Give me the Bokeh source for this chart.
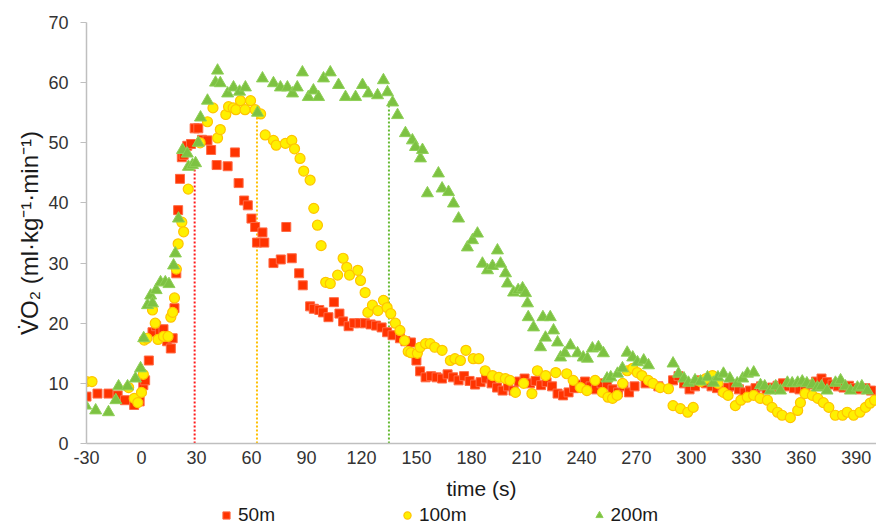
from bokeh.plotting import figure
from bokeh.layouts import column
from bokeh.models import Range1d, FixedTicker, Legend, LegendItem
from bokeh.embed import file_html
from bokeh.resources import INLINE

# ---------------- data ----------------
t50 = [-30, -24, -18, -13, -9, -4, -1, 1, 2, 4, 6, 8, 10, 12, 14, 16, 17, 18, 19, 20,
       21, 22, 23, 25, 27, 29, 31, 33, 36, 38, 41, 47, 51, 53, 56, 58, 60, 62, 63, 66,
       67, 72, 76, 79, 82, 86, 88, 92, 94, 97, 99, 102, 105, 108, 110, 113, 116, 119, 122, 125,
       128, 131, 134, 137, 141, 144, 147, 150, 152, 155, 158, 161, 164, 167, 170, 173, 176, 179, 182, 185,
       188, 191, 194, 197, 200, 203, 206, 209, 212, 215, 218, 221, 224, 227, 230, 233, 236, 239, 242, 245,
       248, 251, 254, 257, 260, 263, 266, 269, 275, 282, 290, 293, 296, 299, 302, 305, 308, 311, 314, 317,
       320, 323, 326, 329, 332, 335, 338, 341, 344, 347, 350, 353, 356, 359, 362, 365, 368, 371, 374, 377,
       380, 383, 386, 389, 392, 395, 398]
v50 = [7.8, 8.3, 8.3, 8.0, 7.2, 6.4, 7.0, 9.7, 10.5, 13.8, 18.5, 19.5, 18.5, 19.0, 17.0, 15.8, 17.5, 22.5, 28.3, 38.8,
       44.0, 47.6, 48.0, 49.5, 49.8, 52.4, 52.4, 50.5, 50.4, 48.8, 46.3, 46.1, 48.4, 43.3, 40.4, 39.6, 37.4, 36.0, 33.4, 35.1,
       33.4, 30.0, 30.6, 36.0, 30.8, 28.3, 26.3, 22.8, 22.4, 22.2, 21.8, 21.0, 23.5, 21.6, 20.3, 19.5, 20.0, 20.0, 20.0, 19.8,
       19.6, 19.3, 18.5, 18.0, 17.5, 17.0, 16.8, 13.8, 12.0, 11.0, 11.2, 11.0, 10.8, 11.5, 11.0, 10.5, 11.2, 10.4, 9.8, 10.2,
       10.8, 10.0, 9.3, 8.8, 9.5, 8.8, 10.3, 10.8, 10.0, 10.4, 9.7, 10.2, 9.5, 8.3, 8.0, 8.5, 9.2, 9.8, 10.3, 9.5,
       9.0, 10.0, 9.7, 9.0, 8.5, 9.5, 8.5, 9.5, 10.0, 9.5, 10.5, 11.2, 10.0, 9.0, 9.5, 10.5, 10.0, 9.5, 9.2, 8.8,
       9.3, 9.5, 9.0, 8.5, 8.8, 9.2, 9.5, 9.0, 9.3, 9.6, 10.0, 9.5, 9.2, 9.0, 9.4, 9.8, 10.3, 10.8, 10.2, 9.8,
       9.5, 9.3, 9.6, 9.2, 9.0, 9.2, 8.8]

t100 = [-30, -27, -7, -4, -2, 0, 1, 1.5, 3, 6, 7.5, 9, 12, 14.5, 16, 17, 18, 19, 20, 22,
        23, 25.5, 32, 36, 39, 41.5, 43, 46, 47.5, 50, 51.5, 54, 56.5, 59.5, 62, 65, 67.5, 72, 73.5, 78.5,
        82, 83.5, 86.5, 88.5, 92, 94, 96, 98, 100.5, 103, 107, 110, 112, 113.5, 118, 119.5, 122, 123.5, 126, 129,
        132, 134, 136, 138.5, 141, 143.5, 145.5, 147, 150.5, 152, 155, 157.5, 160, 164, 168.5, 171, 174, 177, 181, 184,
        187.5, 191.5, 195, 198.5, 201, 204, 208.5, 213, 216, 220.5, 226, 232, 235.5, 239.5, 243, 247.5, 251.5, 254.5, 257, 259.5,
        262.5, 265, 268, 270.5, 273, 276.5, 279, 283, 287.5, 290, 294, 298, 301, 305, 308, 311.5, 314.5, 317.5, 320, 324,
        327, 330.5, 334, 337.5, 341.5, 344, 347, 349.5, 354, 358, 359.5, 362, 366, 369, 372, 375, 378.5, 382.5, 385, 388.5,
        392, 395, 397.5, 400]
v100 = [10.3, 10.3, 9.3, 7.5, 6.8, 8.5, 11.5, 17.2, 17.5, 22.2, 20.0, 17.3, 17.8, 17.8, 21.0, 21.8, 24.2, 29.0, 33.2, 36.8,
        35.2, 42.3, 50.0, 53.5, 55.8, 50.8, 52.2, 54.7, 56.0, 55.8, 55.5, 57.0, 55.5, 57.0, 55.5, 54.8, 51.3, 50.4, 49.6, 49.9,
        50.4, 49.0, 47.4, 45.3, 43.8, 39.1, 36.3, 32.9, 26.8, 26.6, 28.0, 30.8, 29.3, 28.0, 28.8, 27.1, 25.1, 21.8, 23.0, 22.1,
        23.8, 22.6, 21.6, 20.0, 18.8, 17.1, 15.3, 15.1, 15.0, 16.0, 16.6, 16.6, 16.0, 15.5, 13.8, 14.1, 13.8, 15.5, 14.1, 14.1,
        12.1, 11.3, 11.0, 10.8, 10.5, 8.5, 10.0, 8.3, 12.1, 11.3, 11.8, 11.6, 10.5, 9.3, 8.8, 10.5, 8.5, 7.7, 7.5, 8.0,
        10.0, 12.1, 12.5, 11.8, 11.3, 10.5, 10.0, 9.3, 9.1, 6.3, 5.8, 5.2, 6.0, 10.3, 10.8, 11.3, 10.0, 8.5, 8.0, 6.3,
        7.2, 7.7, 8.0, 7.5, 7.2, 6.0, 5.2, 4.7, 4.3, 5.5, 6.8, 8.3, 8.0, 7.5, 6.8, 6.0, 4.7, 4.7, 5.2, 4.7,
        5.2, 6.0, 6.7, 7.2]

t200 = [-30.5, -25, -18, -14, -12.5, -7.6, -3.3, -0.5, 1.2, 3.3, 5, 6, 8, 10.4, 13, 15, 17.5, 18.5, 20.2, 22.4,
        25, 25.6, 27.8, 29.5, 31, 32.2, 36, 40.4, 41.5, 43, 47, 50.2, 53.5, 56.7, 63.3, 66, 72, 75.8, 79.6, 82.4,
        85, 87.8, 91, 93.8, 96.6, 99.3, 103, 107.5, 111.3, 116.8, 120.6, 123.8, 128.8, 132, 134.2, 137, 139.7, 144, 147.8, 149.5,
        152.2, 153.3, 156, 162, 164, 167.5, 170.2, 173, 177.8, 180.6, 183.3, 186, 188.8, 191.5, 194.2, 195.9, 198.6, 199.7, 203, 205.5,
        207.9, 209.5, 210.6, 211, 213.9, 217.7, 219, 220.4, 223, 224.8, 227, 228.6, 231, 234, 237.9, 241, 243.3, 246, 249.3, 252,
        254, 256, 259.7, 262.4, 265, 268, 270.6, 274, 276.6, 290, 293, 296, 298.4, 302, 305, 308.8, 312, 314.5, 317.5, 321,
        325, 328, 330.6, 334, 337.7, 340, 343, 346, 348.6, 352.4, 355, 358, 360.5, 363, 366, 368.8, 371, 374, 378.6, 381.4,
        384, 386.8, 390.6, 393, 396]
v200 = [6.3, 5.5, 5.2, 7.2, 9.5, 9.5, 10.8, 12.5, 17.5, 23.0, 24.6, 23.3, 25.5, 26.8, 26.8, 26.5, 29.6, 31.6, 37.4, 48.8,
        48.2, 46.0, 46.3, 46.6, 50.0, 54.2, 57.0, 60.0, 62.0, 59.9, 58.2, 59.2, 58.5, 59.2, 55.0, 60.7, 59.9, 59.2, 59.2, 58.2,
        59.2, 61.7, 57.6, 58.7, 57.6, 60.7, 61.7, 59.6, 57.6, 57.6, 59.6, 58.2, 57.9, 60.4, 58.4, 56.7, 54.6, 51.6, 50.4, 49.3,
        47.4, 48.8, 41.6, 44.9, 42.4, 41.8, 39.9, 37.4, 32.6, 33.8, 34.9, 29.9, 28.8, 29.5, 32.1, 29.9, 28.3, 26.6, 25.1, 25.5,
        25.8, 25.0, 23.3, 21.0, 19.3, 16.0, 21.0, 17.6, 21.0, 18.8, 16.8, 14.3, 15.0, 16.3, 15.0, 14.3, 14.1, 15.8, 16.0, 15.0,
        10.8, 11.0, 11.6, 12.5, 15.1, 14.3, 13.5, 13.8, 13.0, 13.3, 11.6, 10.8, 10.1, 10.5, 10.3, 11.0, 10.1, 11.0, 11.6, 10.8,
        10.0, 10.8, 11.6, 11.8, 9.7, 9.5, 8.8, 9.5, 8.8, 10.1, 10.0, 10.1, 10.3, 10.0, 9.8, 9.3, 9.5, 8.8, 10.1, 10.5,
        9.5, 8.8, 9.3, 9.5, 8.8]

series_names = ["50m", "100m", "200m"]

# end of each swim (dotted markers) and height of the dotted line
end_times = [29, 63, 135]
end_tops = [46, 55, 57]
end_colors = ["#FF1A1A", "#FFC000", "#66BB33"]

x_ticks = list(range(-30, 391, 30))
y_ticks = list(range(0, 71, 10))

FONT = "Liberation Sans"
STYLES = [dict(marker="square", size=9, fill_color="#FF3300", line_color="#FF6A45", line_width=1),
          dict(marker="circle", size=10, fill_color="#FFF000", line_color="#FFC400", line_width=1.2),
          dict(marker="triangle", size=12, fill_color="#7DC242", line_color="#8FD057", line_width=1)]
series_t = [t50, t100, t200]
series_v = [v50, v100, v200]

p = figure(width=876, height=504, output_backend="svg", toolbar_location=None,
           x_range=Range1d(-30, 401), y_range=Range1d(0, 70),
           min_border_left=86, min_border_right=0, min_border_top=22,
           min_border_bottom=61,
           background_fill_color="white", border_fill_color="white")
p.outline_line_color = None
p.grid.visible = False

# dotted end-of-exercise lines (under the markers)
p.segment(x0=end_times, x1=end_times, y0=[0, 0, 0], y1=end_tops,
          line_color=end_colors, line_width=2, line_dash="2 2")

for tt, vv, st in zip(series_t, series_v, STYLES):
    p.scatter(tt, vv, **st)

# axes
for ax in (p.xaxis[0], p.yaxis[0]):
    ax.axis_line_color = "#BFBFBF"
    ax.axis_line_width = 1.5
    ax.major_tick_line_color = "#BFBFBF"
    ax.minor_tick_line_color = None
    ax.major_label_text_font = FONT
    ax.major_label_text_font_size = "18px"
    ax.major_label_text_color = "#333333"
    ax.axis_label_text_font = FONT
    ax.axis_label_text_font_style = "normal"
    ax.axis_label_text_color = "#1a1a1a"

p.xaxis.ticker = FixedTicker(ticks=x_ticks)
p.xaxis.major_label_overrides = {-30: "-30"}
p.yaxis.ticker = FixedTicker(ticks=y_ticks)
p.xaxis.major_tick_out = 0
p.xaxis.major_tick_in = 0
p.xaxis.major_label_standoff = 7
p.xaxis.axis_label = "time (s)"
p.xaxis.axis_label_text_font_size = "21px"
p.xaxis.axis_label_standoff = 10

p.yaxis.major_tick_out = 6
p.yaxis.major_tick_in = 0
p.yaxis.major_label_standoff = 12
p.yaxis.axis_label = "V\u0307O\u2082 (ml\u00b7kg\u207b\u00b9\u00b7min\u207b\u00b9)"
p.yaxis.axis_label_text_font_size = "24px"
p.yaxis.axis_label_standoff = 2

# legend strip below the chart (its renderers hold the same series, out of view)
leg = figure(width=876, height=26, output_backend="svg", toolbar_location=None,
             x_range=Range1d(0, 1), y_range=Range1d(0, 1),
             min_border=0, border_fill_color="white", background_fill_color="white")
leg.outline_line_color = None
leg.axis.visible = False
leg.grid.visible = False
items = []
for name, tt, vv, st in zip(series_names, series_t, series_v, STYLES):
    r = leg.scatter(tt, vv, **st)
    items.append(LegendItem(label=name, renderers=[r]))
legend = Legend(items=items, orientation="horizontal", location=(130, 4),
                border_line_color=None, background_fill_alpha=0,
                margin=0, padding=0, spacing=122, label_standoff=2,
                glyph_width=20, glyph_height=18, label_height=18,
                label_text_font=FONT, label_text_font_size="19px",
                label_text_color="#1a1a1a")
leg.add_layout(legend, "center")

layout = column(p, leg, spacing=0)
open("out.html", "w").write(file_html(layout, INLINE))
